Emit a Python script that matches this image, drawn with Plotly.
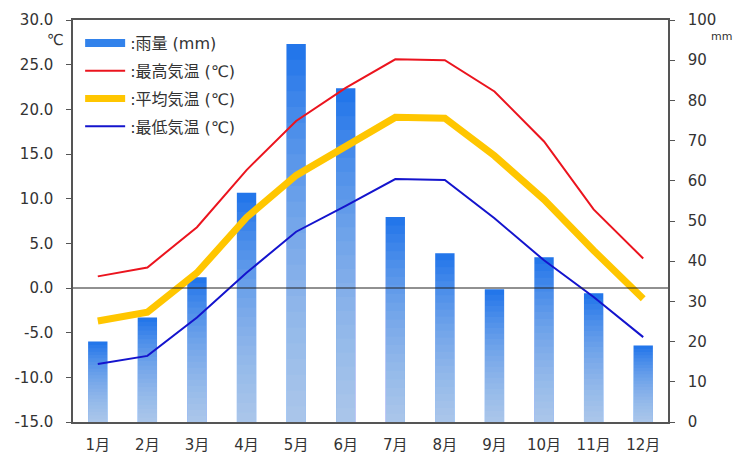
import plotly.graph_objects as go

months = ["1月", "2月", "3月", "4月", "5月", "6月", "7月", "8月", "9月", "10月", "11月", "12月"]
rain_mm = [20, 26, 36, 57, 94, 83, 51, 42, 33, 41, 32, 19]
temp_max = [1.3, 2.3, 6.8, 13.2, 18.7, 22.4, 25.6, 25.5, 22.0, 16.4, 8.8, 3.3]
temp_avg = [-3.7, -2.7, 1.7, 7.9, 12.6, 15.8, 19.1, 19.0, 14.8, 9.9, 4.2, -1.2]
temp_min = [-8.5, -7.6, -3.3, 1.7, 6.3, 9.2, 12.2, 12.1, 7.8, 3.1, -1.0, -5.5]
left_ticks = [30, 25, 20, 15, 10, 5, 0, -5, -10, -15]
right_ticks = [0, 10, 20, 30, 40, 50, 60, 70, 80, 90, 100]

FONT = "DejaVu Sans, Noto Sans CJK JP, sans-serif"
TXT = "#333333"
BAR_BLUE = "rgb(26,112,234)"

fig = go.Figure()

# rain bars (primary axis y, shown on the right)
fig.add_trace(go.Bar(x=months, y=rain_mm, yaxis="y", marker=dict(color=BAR_BLUE, line=dict(width=0)),
                     width=0.39, showlegend=False, hoverinfo="skip"))
# gradient overlay: lighter towards the bottom of each bar
N = 24
for k in range(1, N + 1):
    frac = k / N
    fig.add_trace(go.Bar(x=months, y=[v * frac for v in rain_mm], yaxis="y",
                         marker=dict(color="rgba(255,255,255,0.042)", line=dict(width=0)),
                         width=0.39, showlegend=False, hoverinfo="skip"))

# legend entries
fig.add_trace(go.Scatter(x=[None], y=[None], mode="lines", yaxis="y2", name=":雨量 (mm)",
                         line=dict(color="rgb(50,130,235)", width=8), legendgroup="a"))
fig.add_trace(go.Scatter(x=months, y=temp_max, mode="lines", yaxis="y2", name=":最高気温 (℃)",
                         line=dict(color="rgb(235,20,30)", width=2), legendgroup="b"))
fig.add_trace(go.Scatter(x=months, y=temp_avg, mode="lines", yaxis="y2", name=":平均気温 (℃)",
                         line=dict(color="rgb(255,198,0)", width=7), legendgroup="c"))
fig.add_trace(go.Scatter(x=months, y=temp_min, mode="lines", yaxis="y2", name=":最低気温 (℃)",
                         line=dict(color="rgb(20,20,205)", width=2), legendgroup="d"))

fig.update_layout(
    width=744, height=455,
    margin=dict(l=73, r=76, t=20, b=33, autoexpand=False),
    paper_bgcolor="white", plot_bgcolor="white",
    barmode="overlay", bargap=0.6,
    font=dict(family=FONT, size=15, color=TXT),
    showlegend=True,
    legend=dict(x=0.012, y=0.985, xanchor="left", yanchor="top", bgcolor="rgba(0,0,0,0)",
                font=dict(size=16, color=TXT, family=FONT), traceorder="grouped",
                tracegroupgap=4, itemwidth=40),
    xaxis=dict(type="category", showline=True, linecolor="#555555", linewidth=1.5, mirror=True,
               ticks="", showgrid=False, tickfont=dict(size=15, color=TXT), ticklabelstandoff=8,
               automargin=False),
    yaxis=dict(side="right", range=[0, 100], tickvals=right_ticks, ticktext=[str(v) for v in right_ticks],
               showline=True, linecolor="#555555", linewidth=1.5, ticks="outside", ticklen=5,
               tickcolor="#555555", showgrid=False, zeroline=False, tickfont=dict(size=15, color=TXT),
               ticklabelstandoff=10, automargin=False),
    yaxis2=dict(side="left", overlaying="y", range=[-15, 30], tickvals=left_ticks,
                ticktext=[f"{v:.1f}" for v in left_ticks],
                showline=True, linecolor="#555555", linewidth=1.5, ticks="outside", ticklen=5,
                tickcolor="#555555", showgrid=False, zeroline=False, tickfont=dict(size=15, color=TXT),
                ticklabelstandoff=10, automargin=False),
    shapes=[dict(type="line", xref="paper", x0=0, x1=1, yref="y2", y0=0, y1=0,
                 line=dict(color="#222222", width=1), layer="above")],
    annotations=[
        dict(text="℃", xref="paper", yref="paper", x=-0.03, y=0.978, xanchor="center", yanchor="top",
             showarrow=False, font=dict(size=15, color=TXT)),
        dict(text="mm", xref="paper", yref="paper", x=1.09, y=0.98, xanchor="center", yanchor="top",
             showarrow=False, font=dict(size=11, color=TXT)),
    ],
)

fig.write_html("out.html", config={"displayModeBar": False},
               post_script="document.body.style.margin='0';document.body.style.overflow='hidden';")
